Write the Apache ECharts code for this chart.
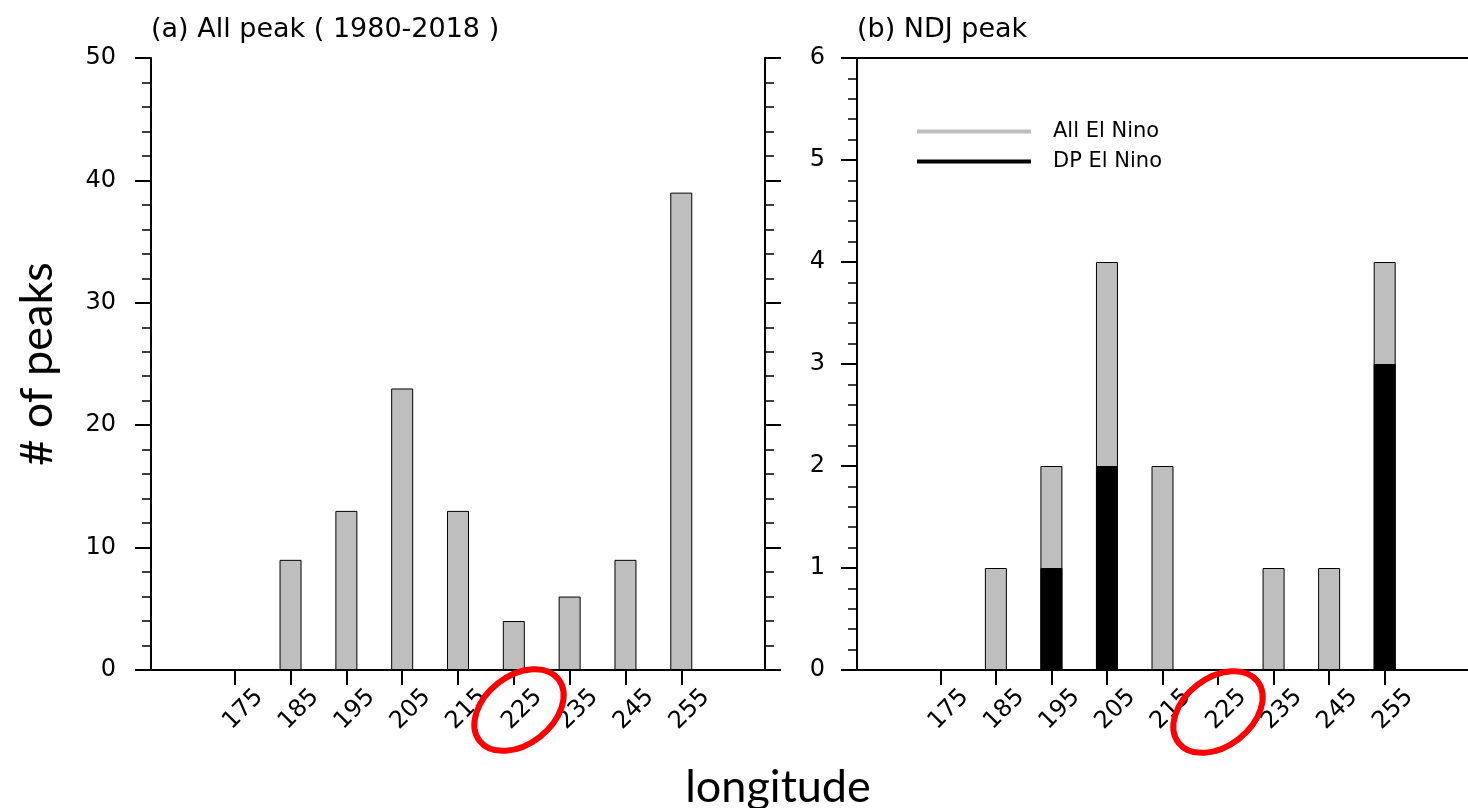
<!DOCTYPE html>
<html>
<head>
<meta charset="utf-8">
<script src="https://cdn.jsdelivr.net/npm/echarts@6/dist/echarts.min.js"></script>
<style>
  html, body { margin: 0; padding: 0; background: #fff; }
  #main { width: 1468px; height: 808px; }
</style>
</head>
<body>
<div id="main"></div>
<script>
// longitude bins (first and last are empty padding bins, not labelled)
var lonBins = ['165', '175', '185', '195', '205', '215', '225', '235', '245', '255', '265'];
// (a) all peaks 1980-2018
var allPeak = [0, 0, 9, 13, 23, 13, 4, 6, 9, 39, 0];
// (b) NDJ peaks
var ndjAll = [0, 0, 1, 2, 4, 2, 0, 1, 1, 4, 0];
var ndjDP = [0, 0, 0, 1, 2, 0, 0, 0, 0, 3, 0];

var FONT = 'DejaVu Sans';
var GRAY = '#bebebe';

function showBin(i) {
  return i > 0 && i < lonBins.length - 1;
}

function bottomAxis(gridIndex) {
  return {
    type: 'category',
    gridIndex: gridIndex,
    data: lonBins,
    position: 'bottom',
    boundaryGap: true,
    axisLine: { lineStyle: { color: '#000', width: 2 } },
    axisTick: {
      show: true,
      alignWithLabel: true,
      interval: function (i) { return showBin(i) },
      length: 15,
      lineStyle: { color: '#000', width: 2 }
    },
    axisLabel: {
      interval: function (i) { return showBin(i) },
      rotate: 45,
      align: 'center',
      verticalAlign: 'top',
      margin: 31,
      fontFamily: FONT,
      fontSize: 24,
      color: '#000'
    },
    splitLine: { show: false }
  }
}

function topAxis(gridIndex) {
  return {
    type: 'category',
    gridIndex: gridIndex,
    data: lonBins,
    position: 'top',
    axisLine: { lineStyle: { color: '#000', width: 2 } },
    axisTick: { show: false },
    axisLabel: { show: false },
    splitLine: { show: false }
  }
}

function valueAxis(gridIndex, max, interval, pos, margin, name) {
  var ax = {
    type: 'value',
    gridIndex: gridIndex,
    position: pos,
    min: 0,
    max: max,
    interval: interval,
    axisLine: { show: true, lineStyle: { color: '#000', width: 2 } },
    axisTick: { show: true, length: 16, lineStyle: { color: '#000', width: 2 } },
    minorTick: { show: true, splitNumber: 5, length: 9, lineStyle: { color: '#000', width: 1.5 } },
    axisLabel: {
      show: pos === 'left',
      margin: margin,
      fontFamily: FONT,
      fontSize: 24,
      color: '#000'
    },
    splitLine: { show: false },
    minorSplitLine: { show: false }
  }
  if (name) {
    ax.name = name
    ax.nameLocation = 'middle'
    ax.nameRotate = 90
    ax.nameGap = 91
    ax.nameTextStyle = { fontFamily: 'Lato', fontSize: 45, color: '#000' }
  }
  return ax
}

function annotEllipse(cx, cy) {
  return {
    type: 'ellipse',
    x: cx,
    y: cy,
    rotation: 38 * Math.PI / 180,
    shape: { cx: 0, cy: 0, rx: 50, ry: 34 },
    style: { fill: 'none', stroke: '#ff0000', lineWidth: 6 },
    z: 100
  }
}

var chart = echarts.init(document.getElementById('main'));

var option = {
  animation: false,
  backgroundColor: '#fff',
  title: [
    {
      text: '(a) All peak ( 1980-2018 )',
      left: 146, top: 11,
      textStyle: { fontFamily: FONT, fontSize: 27, fontWeight: 'normal', color: '#000' }
    },
    {
      text: '(b) NDJ peak',
      left: 852, top: 11,
      textStyle: { fontFamily: FONT, fontSize: 27, fontWeight: 'normal', color: '#000' }
    },
    {
      text: 'longitude',
      left: 773, top: 760,
      textAlign: 'center',
      textStyle: { fontFamily: 'Lato', fontSize: 45, fontWeight: 'normal', color: '#000' }
    }
  ],
  legend: {
    orient: 'vertical',
    left: 912,
    top: 116,
    icon: 'rect',
    itemWidth: 114,
    itemHeight: 4,
    itemGap: 9,
    itemStyle: { borderWidth: 0 },
    textStyle: { fontFamily: FONT, fontSize: 21, color: '#000', lineHeight: 21, padding: [0, 0, 0, 17] },
    data: ['All El Nino', 'DP El Nino']
  },
  grid: [
    { left: 151, top: 58, width: 614, height: 612 },
    { left: 857, top: 58, width: 614, height: 612 }
  ],
  xAxis: [bottomAxis(0), topAxis(0), bottomAxis(1), topAxis(1)],
  yAxis: [
    valueAxis(0, 50, 10, 'left', 35, '# of peaks'),
    valueAxis(0, 50, 10, 'right', 35),
    valueAxis(1, 6, 1, 'left', 32)
  ],
  series: [
    {
      name: 'All peak',
      type: 'bar',
      xAxisIndex: 0,
      yAxisIndex: 0,
      barWidth: 22,
      itemStyle: { color: GRAY, borderColor: '#000', borderWidth: 1 },
      data: allPeak
    },
    {
      name: 'All El Nino',
      type: 'bar',
      xAxisIndex: 2,
      yAxisIndex: 2,
      barWidth: 22,
      barGap: '-100%',
      itemStyle: { color: GRAY, borderColor: '#000', borderWidth: 1 },
      data: ndjAll
    },
    {
      name: 'DP El Nino',
      type: 'bar',
      xAxisIndex: 2,
      yAxisIndex: 2,
      barWidth: 22,
      barGap: '-100%',
      itemStyle: { color: '#000', borderColor: '#000', borderWidth: 1 },
      data: ndjDP
    }
  ],
  graphic: [annotEllipse(519, 710), annotEllipse(1218, 712)]
};

chart.setOption(option);
</script>
</body>
</html>
